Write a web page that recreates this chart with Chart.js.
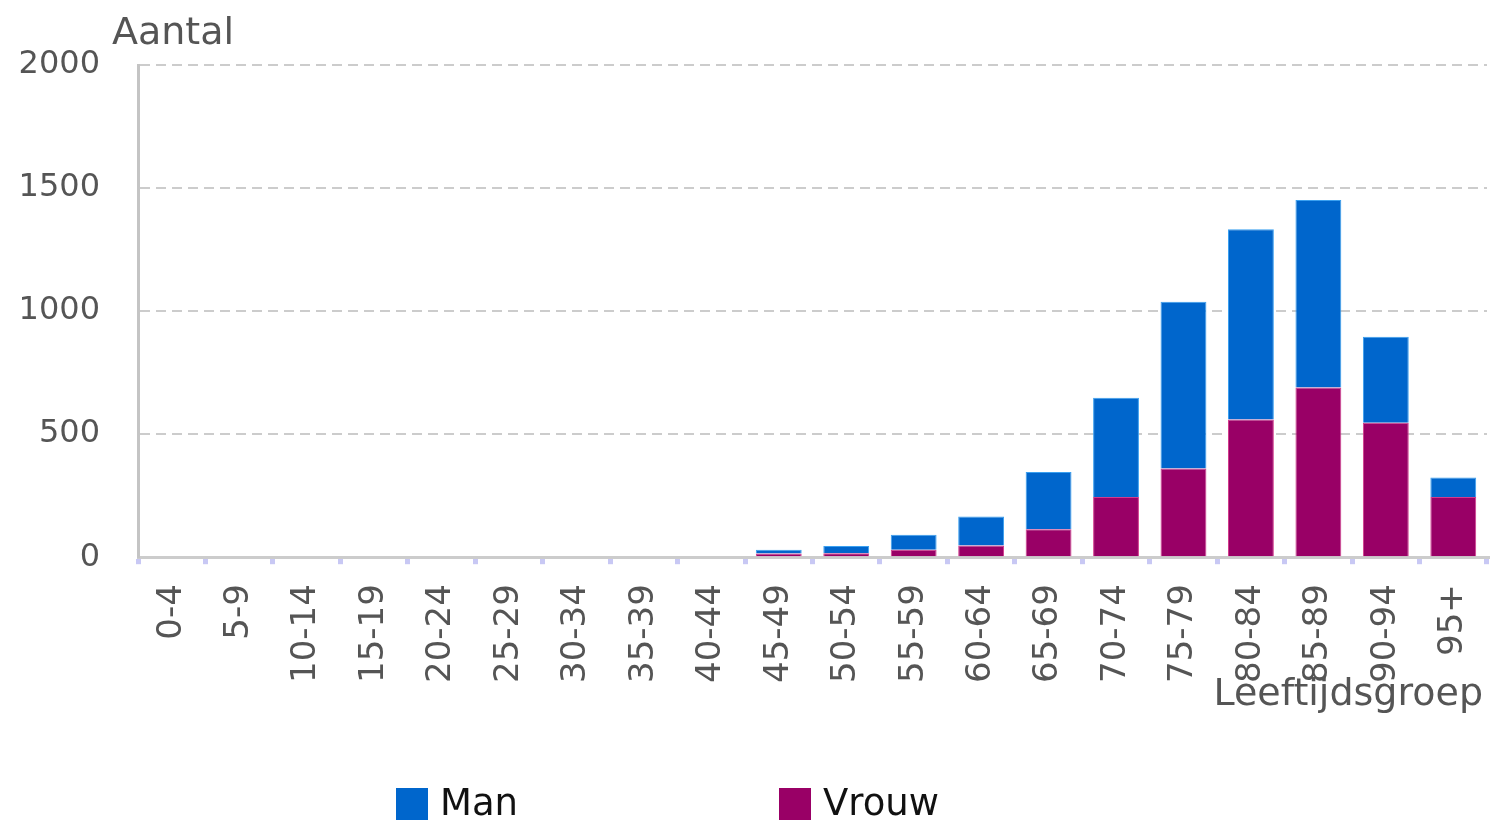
<!DOCTYPE html>
<html>
<head>
<meta charset="utf-8">
<script src="https://cdn.jsdelivr.net/npm/chart.js@4/dist/chart.umd.min.js"></script>
<style>
  html, body { margin: 0; padding: 0; background: #ffffff; }
  #wrap { position: relative; width: 1491px; height: 822px; }
</style>
</head>
<body>
<div id="wrap"><canvas id="c" width="1491" height="822"></canvas></div>
<script>
const categories = ["0-4","5-9","10-14","15-19","20-24","25-29","30-34","35-39","40-44","45-49","50-54","55-59","60-64","65-69","70-74","75-79","80-84","85-89","90-94","95+"];
const manValues   = [0,0,0,0,0,0,0,0,0,15,30,61,117,232,403,678,773,761,350,79];
const vrouwValues = [0,0,0,0,0,0,0,0,0,15,16,30,48,114,245,360,560,690,546,245];
const yTicks = [0, 500, 1000, 1500, 2000];
const yTitle = "Aantal";
const xTitle = "Leeftijdsgroep";

const FONT = "'DejaVu Sans', Verdana, sans-serif";
const TEXT = '#555555';

const overlayPlugin = {
  id: 'overlay',
  afterDraw(chart) {
    const ctx = chart.ctx;
    const a = chart.chartArea;
    ctx.save();
    ctx.fillStyle = TEXT;
    ctx.font = '38px ' + FONT;
    ctx.textBaseline = 'alphabetic';
    ctx.textAlign = 'left';
    ctx.fillText(yTitle, 112, 44);
    ctx.textAlign = 'right';
    ctx.fillText(xTitle, a.right - 4, 705);
    // legend
    const items = [...chart.data.datasets].reverse();
    const xs = [396, 779];
    ctx.font = '37px ' + FONT;
    ctx.textAlign = 'left';
    ctx.textBaseline = 'middle';
    items.forEach((ds, i) => {
      const x = xs[i];
      ctx.fillStyle = ds.backgroundColor;
      ctx.fillRect(x, 788, 32, 32);
      ctx.fillStyle = '#111111';
      ctx.fillText(ds.label, x + 44, 805);
    });
    ctx.restore();
  }
};

new Chart(document.getElementById('c'), {
  type: 'bar',
  data: {
    labels: categories,
    datasets: [
      { label: 'Vrouw', data: vrouwValues, backgroundColor: '#990066', borderColor: '#d23c8c', borderWidth: 1, barPercentage: 0.68, categoryPercentage: 1 },
      { label: 'Man', data: manValues, backgroundColor: '#0066cc', borderColor: '#3aa0f0', borderWidth: 1, barPercentage: 0.68, categoryPercentage: 1 }
    ]
  },
  options: {
    responsive: false,
    animation: false,
    layout: { padding: { top: 65, right: 4, left: 18, bottom: 119 } },
    plugins: {
      legend: { display: false },
      tooltip: { enabled: false }
    },
    scales: {
      x: {
        stacked: true,
        offset: true,
        afterFit(scale) { scale.paddingLeft = 0; scale.paddingRight = 0; },
        grid: { display: true, drawOnChartArea: false, drawTicks: true, tickLength: 7, color: '#c8c8f4', lineWidth: 5, offset: true },
        border: { display: true, color: '#cccccc', width: 3 },
        ticks: { color: TEXT, font: { family: FONT, size: 34 }, minRotation: 90, maxRotation: 90, padding: 20, autoSkip: false }
      },
      y: {
        stacked: true,
        min: 0,
        max: 2000,
        afterBuildTicks(scale) { scale.ticks = yTicks.map(v => ({ value: v })); },
        afterFit(scale) { scale.width = 120; },
        grid: { color: '#cccccc', lineWidth: 2, drawTicks: false },
        border: { display: true, color: '#c4c4c4', width: 3, dash: [10, 6] },
        ticks: { color: TEXT, font: { family: FONT, size: 32 }, padding: 38, callback: (v) => String(v) }
      }
    }
  },
  plugins: [overlayPlugin]
});
</script>
</body>
</html>
